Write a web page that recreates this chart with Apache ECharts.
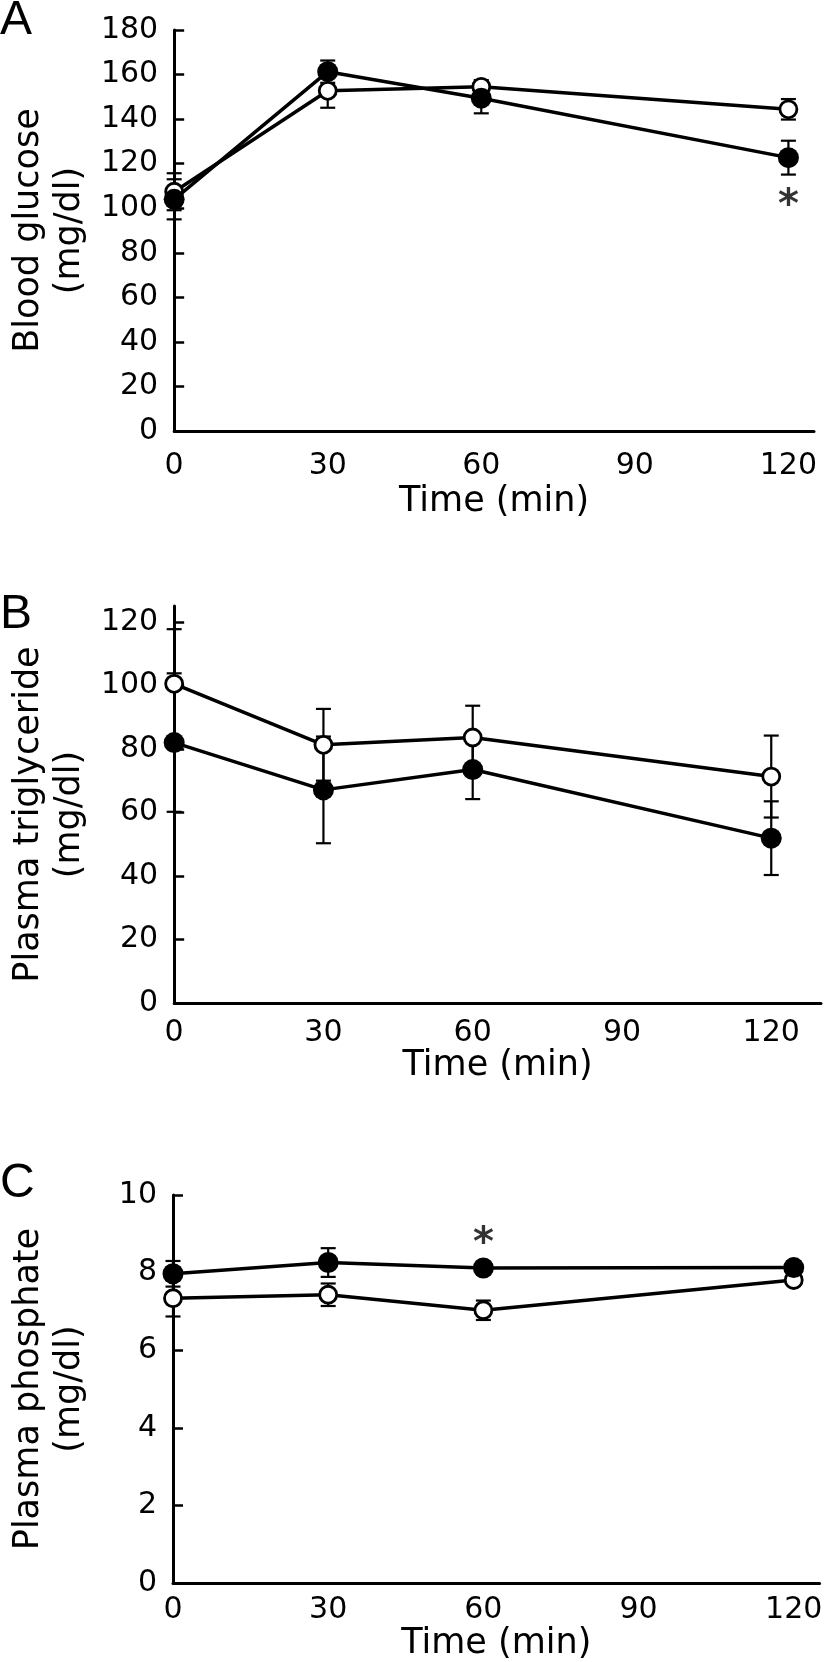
<!DOCTYPE html>
<html><head><meta charset="utf-8">
<script src="https://cdn.jsdelivr.net/npm/echarts@6/dist/echarts.min.js"></script>
<style>html,body{margin:0;padding:0;background:#fff;}#c{width:825px;height:1662px;}</style>
</head><body><div id="c"></div>
<script>
// ---- data ----
const times = [0, 30, 60, 120];
const xTicks = [0, 30, 60, 90, 120];
const glucoseTicks = [0, 20, 40, 60, 80, 100, 120, 140, 160, 180];
const tgTicks = [0, 20, 40, 60, 80, 100, 120];
const phTicks = [0, 2, 4, 6, 8, 10];

const glucoseOpen = [107.4, 152.7, 154.5, 144.4];
const glucoseOpenErr = [8.3, 7.6, 3.0, 4.6];
const glucoseFilled = [104.0, 161.3, 149.4, 122.7];
const glucoseFilledErr = [9.0, 5.0, 6.8, 7.6];

const tgOpen = [100.5, 81.3, 83.6, 71.3];
const tgOpenErr = [17.2, 11.3, 10.0, 12.9];
const tgFilled = [82.0, 67.1, 73.5, 51.9];
const tgFilledErr = [21.8, 16.8, 9.3, 11.6];

const phOpen = [7.34, 7.43, 7.03, 7.81];
const phOpenErr = [0.47, 0.29, 0.25, 0.12];
const phFilled = [7.97, 8.26, 8.12, 8.13];
const phFilledErr = [0.33, 0.37, 0.12, 0.12];

const starA = [[120, 100.5]];
const starC = [[60, 8.72]];

// ---- chart ----
const FONT = 'DejaVu Sans';
const chart = echarts.init(document.getElementById('c'), null, {renderer: 'canvas'});

function errRender(params, api) {
  const x = api.value(0), lo = api.value(1), hi = api.value(2);
  const p1 = api.coord([x, hi]), p2 = api.coord([x, lo]);
  const w = 7.5;
  const style = {stroke: '#000', lineWidth: 2.2};
  return {type: 'group', children: [
    {type: 'line', shape: {x1: p1[0], y1: p1[1], x2: p2[0], y2: p2[1]}, style: style},
    {type: 'line', shape: {x1: p1[0] - w, y1: p1[1], x2: p1[0] + w, y2: p1[1]}, style: style},
    {type: 'line', shape: {x1: p2[0] - w, y1: p2[1], x2: p2[0] + w, y2: p2[1]}, style: style}
  ]};
}
function errSeries(idx, vals, errs) {
  return {type: 'custom', xAxisIndex: idx, yAxisIndex: idx, renderItem: errRender,
    data: times.map((t, i) => [t, vals[i] - errs[i], vals[i] + errs[i]]),
    encode: {x: 0, y: [1, 2]}, z: 2, clip: false, silent: true};
}
function lineSeries(idx, vals, filled) {
  return {type: 'line', xAxisIndex: idx, yAxisIndex: idx,
    data: times.map((t, i) => [t, vals[i]]),
    symbol: 'circle', symbolSize: filled ? 21 : 17, showAllSymbol: true,
    lineStyle: {color: '#000', width: 3.5},
    itemStyle: filled ? {color: '#000'} : {color: '#fff', borderColor: '#000', borderWidth: 2.8},
    z: filled ? 4 : 3, silent: true};
}
function starSeries(idx, pts) {
  return {type: 'scatter', xAxisIndex: idx, yAxisIndex: idx, data: pts, symbolSize: 1,
    itemStyle: {color: 'rgba(0,0,0,0)'}, silent: true, z: 5,
    label: {show: true, formatter: '*', position: 'inside', fontSize: 40, fontWeight: 'bold',
      color: '#000', fontFamily: FONT}};
}
function xAxis(idx, max, margin, gap) {
  return {type: 'value', gridIndex: idx, min: 0, max: max,
    axisLine: {show: true, onZero: false, lineStyle: {color: '#000', width: 3}},
    axisTick: {show: false}, splitLine: {show: false},
    axisLabel: {customValues: xTicks, margin: margin, fontSize: 30, color: '#000', fontFamily: FONT},
    name: 'Time (min)', nameLocation: 'middle', nameGap: gap,
    nameTextStyle: {fontSize: 35, color: '#000', fontFamily: FONT, verticalAlign: 'middle'}};
}
function yAxis(idx, max, ticks, name, pad) {
  return {type: 'value', gridIndex: idx, min: 0, max: max,
    axisLine: {show: true, onZero: false, lineStyle: {color: '#000', width: 3}},
    axisTick: {show: true, inside: true, length: 10, customValues: ticks, lineStyle: {color: '#000', width: 2.5}},
    splitLine: {show: false},
    axisLabel: {customValues: ticks, margin: 16, fontSize: 30, color: '#000', fontFamily: FONT},
    name: name, nameLocation: 'middle', nameGap: 124, nameRotate: 90,
    nameTextStyle: {fontSize: 35, lineHeight: 41, color: '#000', fontFamily: FONT,
      verticalAlign: 'middle', align: 'center', padding: pad}};
}

chart.setOption({
  animation: false,
  backgroundColor: '#fff',
  grid: [
    {left: 164, top: 30, width: 650, height: 401},
    {left: 164, top: 606, width: 657, height: 397},
    {left: 164, top: 1195, width: 660, height: 389}
  ],
  xAxis: [xAxis(0, 125, 20, 71), xAxis(1, 130, 15, 63), xAxis(2, 125, 12, 55)],
  yAxis: [
    yAxis(0, 180, glucoseTicks, 'Blood glucose\n(mg/dl)', [0, 0, 0, 0]),
    yAxis(1, 125, tgTicks, 'Plasma triglyceride\n(mg/dl)', [0, 20, 0, 0]),
    yAxis(2, 10, phTicks, 'Plasma phosphate\n(mg/dl)', [0, 0, 0, 0])
  ],
  graphic: [
    {type: 'text', left: 0, top: -3, style: {text: 'A', font: '48px "Liberation Sans"', fill: '#000'}},
    {type: 'text', left: 0, top: 591, style: {text: 'B', font: '48px "Liberation Sans"', fill: '#000'}},
    {type: 'text', left: 0, top: 1160, style: {text: 'C', font: '48px "Liberation Sans"', fill: '#000'}}
  ],
  series: [
    errSeries(0, glucoseOpen, glucoseOpenErr), errSeries(0, glucoseFilled, glucoseFilledErr),
    lineSeries(0, glucoseOpen, false), lineSeries(0, glucoseFilled, true), starSeries(0, starA),
    errSeries(1, tgOpen, tgOpenErr), errSeries(1, tgFilled, tgFilledErr),
    lineSeries(1, tgOpen, false), lineSeries(1, tgFilled, true),
    errSeries(2, phOpen, phOpenErr), errSeries(2, phFilled, phFilledErr),
    lineSeries(2, phOpen, false), lineSeries(2, phFilled, true), starSeries(2, starC)
  ]
});
</script></body></html>
